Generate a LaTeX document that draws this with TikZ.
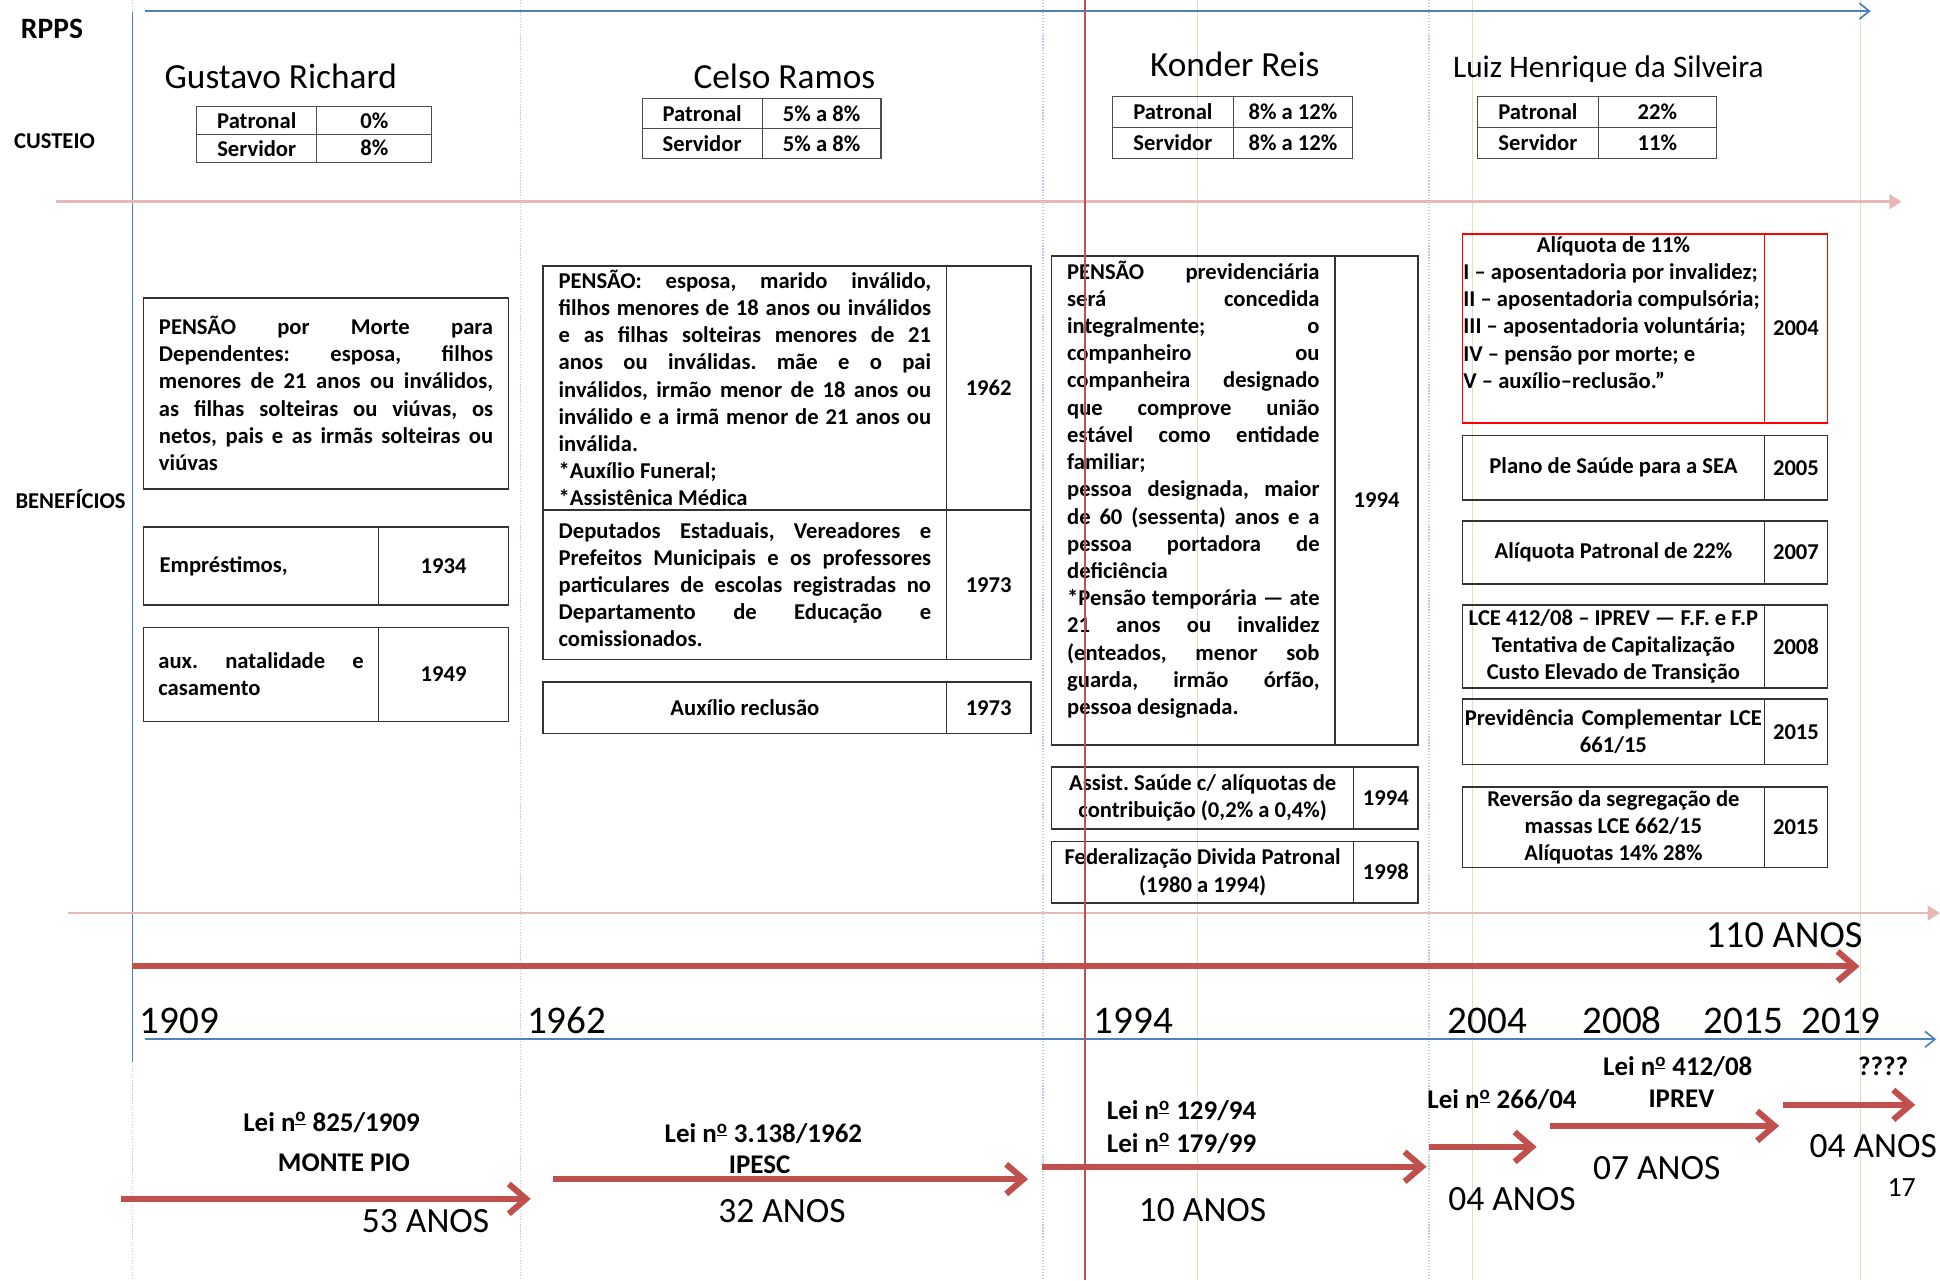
\documentclass[tikz,border=0pt]{standalone}
\usepackage{fontspec}
\setmainfont{Carlito}
\usepackage{tikz}
\usetikzlibrary{arrows.meta,positioning}
\definecolor{rppsred}{HTML}{C0504D}
\definecolor{rppsblue}{HTML}{4F81BD}
\definecolor{gridpink}{HTML}{E6B9B8}
\definecolor{gridblue}{HTML}{B9CDE5}
\definecolor{gridgreen}{HTML}{D7E4BD}
\frenchspacing
\newcommand\bodyfont{\fontsize{13}{15.65}\selectfont\bfseries}
\newcommand\jl[1]{\makebox[\hsize][s]{#1}}
\newcommand\nro{n\textsuperscript{\underline{o}}}

\begin{document}
\begin{tikzpicture}[x=0.025cm, y=-0.025cm,
    every node/.append style={inner sep=0pt, outer sep=0pt},
    ttl/.style={font=\fontsize{20.3}{24}\selectfont},
    side/.style={font=\bodyfont},
    yr/.style={anchor=west, font=\fontsize{22.5}{27}\selectfont},
    lei/.style={font=\fontsize{15.5}{18.6}\selectfont\bfseries},
    anos/.style={font=\fontsize{20.4}{24}\selectfont},
    cell/.style 2 args={draw=black!70, line width=0.6pt, minimum width=#1cm, minimum height=#2cm, font=\bodyfont},
    box/.style 2 args={draw=black!80, line width=0.9pt, minimum width=#1cm, minimum height=#2cm, font=\bodyfont},
    per/.style={rppsred, line width=3.5pt, -{Straight Barb[length=3.5mm,width=6mm]}},
    axis/.style={rppsblue, line width=1pt, -{Straight Barb[length=2mm,width=3.2mm]}},
    band/.style={gridpink, line width=1.5pt, -{Triangle[length=2.5mm,width=3mm]}}]

\useasboundingbox (0,0) rectangle (1568,1034.6);

\foreach \x in {107,421,843,1155}
    \draw[gridblue, densely dotted, line width=0.7pt] (\x,0) -- (\x,1034.6);
\foreach \x in {968,1190,1504}
    \draw[gridgreen, line width=0.7pt] (\x,0) -- (\x,1034.6);

\coordinate (rt0) at (117,9);
\coordinate (rt1) at (1512,9);
\coordinate (vl0) at (107,10);
\coordinate (vl1) at (107,858);
\coordinate (pk0) at (45,163);
\coordinate (pk1) at (1537,163);
\coordinate (pb0) at (55,738);
\coordinate (pb1) at (1568,738);
\coordinate (lt0) at (107,781);
\coordinate (lt1) at (1503,781);
\coordinate (bt0) at (117,840);
\coordinate (bt1) at (1565,840);

\path[axis] (rt0) edge (rt1) (bt0) edge (bt1);
\draw[rppsblue, line width=1pt] (vl0) -- (vl1);
\path[band] (pk0) edge (pk1) (pb0) edge (pb1);

\node[side, font=\fontsize{17}{20}\selectfont\bfseries] (rpps) at (42,23) {RPPS};
\node[side] (cust) at (44,114) {CUSTEIO};
\node[side] (bene) at (57,403) {BENEFÍCIOS};

\node[ttl] (gr) at (227,62) {Gustavo Richard};
\node[ttl] (cr) at (634,62) {Celso Ramos};
\node[ttl] (kr) at (998,52) {Konder Reis};
\node[ttl, font=\fontsize{18}{22}\selectfont] (lh) at (1300,56) {Luiz Henrique da Silveira};

\node[cell={2.425}{0.5625}, anchor=north west] (grp) at (159,86) {Patronal};
\node[cell={2.325}{0.5625}, right=0pt of grp] (grpv) {0\%};
\node[cell={2.425}{0.5625}, below=0pt of grp] (grs) {Servidor};
\node[cell={2.325}{0.5625}, right=0pt of grs] (grsv) {8\%};

\node[cell={2.425}{0.6}, anchor=north west] (crp) at (519,80) {Patronal};
\node[cell={2.4}{0.6}, right=0pt of crp] (crpv) {5\% a 8\%};
\node[cell={2.425}{0.6}, below=0pt of crp] (crs) {Servidor};
\node[cell={2.4}{0.6}, right=0pt of crs] (crsv) {5\% a 8\%};

\node[cell={2.45}{0.625}, anchor=north west] (krp) at (899,78) {Patronal};
\node[cell={2.4}{0.625}, right=0pt of krp] (krpv) {8\% a 12\%};
\node[cell={2.45}{0.625}, below=0pt of krp] (krs) {Servidor};
\node[cell={2.4}{0.625}, right=0pt of krs] (krsv) {8\% a 12\%};

\node[cell={2.45}{0.625}, anchor=north west] (lhp) at (1194,78) {Patronal};
\node[cell={2.375}{0.625}, right=0pt of lhp] (lhpv) {22\%};
\node[cell={2.45}{0.625}, below=0pt of lhp] (lhs) {Servidor};
\node[cell={2.375}{0.625}, right=0pt of lhs] (lhsv) {11\%};

\node[box={7.375}{3.85}, anchor=north west, text width=6.75cm, align=justify] (gpen) at (116,241)
    {\jl{PENSÃO por Morte para}\\\jl{Dependentes: esposa, filhos}\\\jl{menores de 21 anos ou inválidos,}\\
     \jl{as filhas solteiras ou viúvas, os}\\\jl{netos, pais e as irmãs solteiras ou}\\viúvas};
\node[box={4.75}{1.575}, anchor=north west, text width=4.1cm, align=justify] (gemp) at (116,426) {Empréstimos,};
\node[box={2.625}{1.575}, right=0pt of gemp] (gempy) {1934};
\node[box={4.75}{1.9}, anchor=north west, text width=4.15cm, align=justify] (gaux) at (116,507)
    {\jl{aux. natalidade e}\\casamento};
\node[box={2.625}{1.9}, right=0pt of gaux] (gauxy) {1949};

\node[box={8.15}{4.925}, anchor=north west, text width=7.525cm, align=justify] (cpen) at (439,215)
    {\jl{PENSÃO: esposa, marido inválido,}\\\jl{filhos menores de 18 anos ou inválidos}\\
     \jl{e as filhas solteiras menores de 21}\\\jl{anos ou inválidas. mãe e o pai}\\
     \jl{inválidos, irmão menor de 18 anos ou}\\\jl{inválido e a irmã menor de 21 anos ou}\\
     inválida.\\{*}Auxílio Funeral;\\{*}Assistênica Médica};
\node[box={1.7}{4.925}, right=0pt of cpen] (cpeny) {1962};
\node[box={8.15}{3.025}, below=0pt of cpen, text width=7.525cm, align=justify] (cdep)
    {\jl{Deputados Estaduais, Vereadores e}\\\jl{Prefeitos Municipais e os professores}\\
     \jl{particulares de escolas registradas no}\\\jl{Departamento de Educação e}\\comissionados.};
\node[box={1.7}{3.025}, right=0pt of cdep] (cdepy) {1973};
\node[box={8.15}{1.05}, anchor=north west] (caux) at (439,551) {Auxílio reclusão};
\node[box={1.7}{1.05}, right=0pt of caux] (cauxy) {1973};

\node[box={5.725}{9.875}, anchor=north west, text width=5.1cm, align=justify] (kpen) at (850,207)
    {\jl{PENSÃO previdenciária}\\\jl{será concedida}\\\jl{integralmente; o}\\\jl{companheiro ou}\\
     \jl{companheira designado}\\\jl{que comprove união}\\\jl{estável como entidade}\\familiar;\\
     \jl{pessoa designada, maior}\\\jl{de 60 (sessenta) anos e a}\\\jl{pessoa portadora de}\\deficiência\\
     \jl{*Pensão temporária — ate}\\\jl{21 anos ou invalidez}\\\jl{(enteados, menor sob}\\
     \jl{guarda, irmão órfão,}\\pessoa designada.\\[-0.03cm]};
\node[box={1.675}{9.875}, right=0pt of kpen] (kpeny) {1994};
\node[box={6.1}{1.25}, anchor=north west, align=center] (kass) at (850,620)
    {Assist. Saúde c/ alíquotas de\\contribuição (0,2\% a 0,4\%)};
\node[box={1.3}{1.25}, right=0pt of kass] (kassy) {1994};
\node[box={6.1}{1.25}, anchor=north west, align=center] (kfed) at (850,680)
    {Federalização Divida Patronal\\(1980 a 1994)};
\node[box={1.3}{1.25}, right=0pt of kfed] (kfedy) {1998};

\node[box={6.1}{3.825}, draw=red, line width=1pt, anchor=north west, text width=6.06cm, align=justify] (lali) at (1182,189)
    {\makebox[\hsize][c]{Alíquota de 11\%}\\I – aposentadoria por invalidez;\\II – aposentadoria compulsória;\\
     III – aposentadoria voluntária;\\IV – pensão por morte; e\\V – auxílio–reclusão.”\\[0.1cm]};
\node[box={1.275}{3.825}, draw=red, line width=1pt, right=0pt of lali] (laliy) {2004};
\node[box={6.1}{1.3}, anchor=north west] (lpla) at (1182,352) {Plano de Saúde para a SEA};
\node[box={1.275}{1.3}, right=0pt of lpla] (lplay) {2005};
\node[box={6.1}{1.275}, anchor=north west] (lpat) at (1182,421) {Alíquota Patronal de 22\%};
\node[box={1.275}{1.275}, right=0pt of lpat] (lpaty) {2007};
\node[box={6.1}{1.675}, anchor=north west, align=center] (llce) at (1182,489)
    {LCE 412/08 – IPREV — F.F. e F.P\\Tentativa de Capitalização\\Custo Elevado de Transição};
\node[box={1.275}{1.675}, right=0pt of llce] (llcey) {2008};
\node[box={6.1}{1.325}, anchor=north west, text width=6.0cm, align=justify] (lprev) at (1182,565)
    {\jl{Previdência Complementar LCE}\\\makebox[\hsize][c]{661/15}};
\node[box={1.275}{1.325}, right=0pt of lprev] (lprevy) {2015};
\node[box={6.1}{1.625}, anchor=north west, align=center] (lrev) at (1182,636)
    {Reversão da segregação de\\massas LCE 662/15\\Alíquotas 14\% 28\%};
\node[box={1.275}{1.625}, right=0pt of lrev] (lrevy) {2015};

\draw[rppsred, line width=1.2pt] (877,0) -- (877,1034.6);

\node[anos, font=\fontsize{22}{26}\selectfont] (n110) at (1442,756) {110 ANOS};
\path[per] (lt0) edge (lt1);

\node[yr] (y1909) at (113,825) {1909};
\node[yr] (y1962) at (426,825) {1962};
\node[yr] (y1994) at (884,825) {1994};
\node[yr] (y2004) at (1170,825) {2004};
\node[yr] (y2008) at (1279,825) {2008};
\node[yr] (y2015) at (1377,825) {2015};
\node[yr] (y2019) at (1456,825) {2019};

\node[lei] (l1909) at (268,907) {Lei \nro\ 825/1909};
\node[lei] (mpio) at (278,940) {MONTE PIO};
\node[anos] (n53) at (344,987) {53 ANOS};
\node[lei] (l1962) at (617,916) {Lei \nro\ 3.138/1962};
\node[lei] (ipesc) at (614,941) {IPESC};
\node[anos] (n32) at (632,979) {32 ANOS};
\node[lei] (l94) at (955,898) {Lei \nro\ 129/94};
\node[lei] (l99) at (955,924) {Lei \nro\ 179/99};
\node[anos] (n10) at (972,978) {10 ANOS};
\node[lei] (l04) at (1214,889) {Lei \nro\ 266/04};
\node[anos] (n04a) at (1222,969) {04 ANOS};
\node[lei] (l08) at (1356,862) {Lei \nro\ 412/08};
\node[lei] (iprev) at (1359,888) {IPREV};
\node[anos] (n07) at (1339,944) {07 ANOS};
\node[lei] (unk) at (1522,862) {????};
\node[anos] (n04b) at (1514,926) {04 ANOS};
\node[font=\fontsize{16}{19}\selectfont] (pnum) at (1537,960) {17};

\coordinate (a1s) at (98,969);
\coordinate (a1e) at (429,969);
\coordinate (a2s) at (447,953);
\coordinate (a2e) at (831,953);
\coordinate (a3s) at (842,943);
\coordinate (a3e) at (1153,943);
\coordinate (a4s) at (1155,927);
\coordinate (a4e) at (1242,927);
\coordinate (a5s) at (1253,910);
\coordinate (a5e) at (1438,910);
\coordinate (a6s) at (1441,893);
\coordinate (a6e) at (1548,893);

\path[per] (a1s) edge (a1e)
    (a2s) edge (a2e)
    (a3s) edge (a3e)
    (a4s) edge (a4e)
    (a5s) edge (a5e)
    (a6s) edge (a6e);

\end{tikzpicture}
\end{document}
